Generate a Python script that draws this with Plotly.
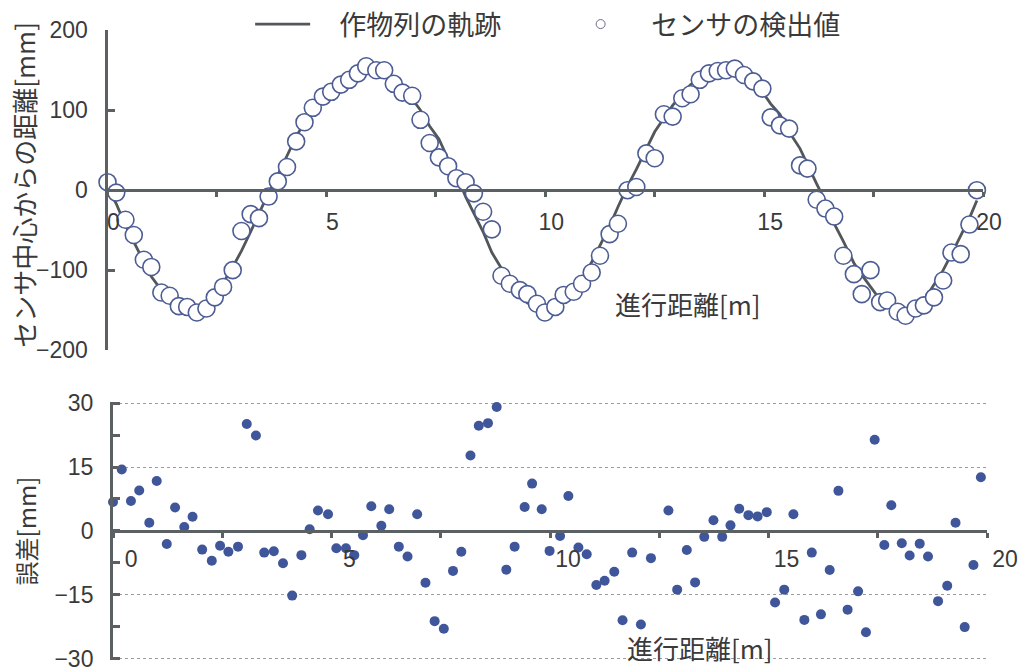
import plotly.graph_objects as go

# ---- data ----
distance_m = [0.0, 0.20, 0.41, 0.60, 0.83, 1.00, 1.23, 1.42, 1.63, 1.82,
              2.04, 2.26, 2.45, 2.64, 2.86, 3.06, 3.27, 3.46, 3.68, 3.89,
              4.10, 4.31, 4.50, 4.69, 4.92, 5.11, 5.33, 5.52, 5.72, 5.91,
              6.14, 6.32, 6.54, 6.74, 6.96, 7.15, 7.36, 7.57, 7.78, 7.97,
              8.18, 8.37, 8.58, 8.78, 9.00, 9.19, 9.42, 9.59, 9.81, 9.99,
              10.23, 10.42, 10.65, 10.84, 11.06, 11.25, 11.47, 11.66, 11.88, 12.08,
              12.31, 12.50, 12.71, 12.91, 13.13, 13.32, 13.53, 13.74, 13.94, 14.13,
              14.33, 14.54, 14.75, 14.96, 15.15, 15.36, 15.57, 15.82, 15.99, 16.20,
              16.40, 16.60, 16.81, 17.05, 17.23, 17.43, 17.65, 17.81, 18.05, 18.23,
              18.46, 18.65, 18.88, 19.09, 19.28, 19.49, 19.69, 19.86]

row_track_mm = [3, -17, -44, -65, -89, -108, -125, -137, -146, -149,
                -149, -141, -130, -116, -96, -76, -52, -30, -3, 19,
                44, 67, 85, 98, 113, 127, 136, 144, 147, 149,
                149, 145, 137, 128, 114, 100, 80, 64, 39, 20,
                -8, -29, -52, -78, -98, -113, -131, -141, -147, -148,
                -145, -139, -123, -111, -90, -70, -45, -21, 5, 26,
                52, 73, 90, 106, 120, 132, 139, 144, 150, 149,
                147, 140, 133, 123, 108, 95, 73, 52, 32, 8,
                -14, -42, -64, -91, -106, -121, -137, -144, -149, -151,
                -145, -138, -118, -100, -80, -57, -35, -13]

sensor_mm = [10, -3, -37, -56, -87, -96, -128, -132, -145, -146,
             -153, -148, -134, -121, -100, -51, -30, -35, -8, 11,
             29, 61, 85, 103, 117, 123, 132, 138, 146, 155,
             150, 150, 133, 122, 118, 88, 59, 41, 30, 15,
             10, -4, -27, -49, -107, -117, -125, -130, -142, -153,
             -146, -131, -127, -117, -103, -82, -55, -42, 0, 4,
             46, 40, 95, 92, 115, 120, 138, 146, 149, 150,
             152, 144, 136, 127, 91, 81, 77, 31, 27, -12,
             -23, -33, -82, -105, -130, -100, -140, -138, -152, -157,
             -148, -144, -134, -113, -78, -80, -43, 0]

# None: point lies below the -30 mm limit of the lower chart (not shown)
error_mm = [6.8, 14.4, 7.0, 9.5, 1.9, 11.7, -3.1, 5.5, 0.9, 3.3,
            -4.4, -7.0, -3.5, -4.9, -3.7, 25.1, 22.4, -5.1, -4.8, -7.6,
            -15.2, -5.7, 0.4, 4.8, 3.9, -4.1, -4.1, -5.7, -1.0, 5.8,
            1.2, 5.1, -3.7, -6.0, 3.9, -12.2, -21.2, -23.0, -9.4, -4.9,
            17.7, 24.7, 25.3, 29.1, -9.1, -3.7, 5.6, 11.1, 5.1, -4.7,
            -1.2, 8.2, -3.9, -5.5, -12.7, -11.7, -9.6, -21.0, -5.1, -22.0,
            -6.4, None, 4.8, -13.8, -4.5, -12.1, -1.4, 2.5, -1.4, 1.3,
            5.2, 3.7, 3.4, 4.4, -16.8, -13.8, 3.9, -20.9, -5.1, -19.6,
            -9.2, 9.4, -18.5, -14.2, -23.8, 21.4, -3.3, 6.0, -2.9, -5.8,
            -3.0, -6.0, -16.5, -12.9, 1.9, -22.6, -8.0, 12.6]

series_names = ["作物列の軌跡", "センサの検出値"]
top_y_title = "センサ中心からの距離[mm]"
bottom_y_title = "誤差[mm]"
x_title = "進行距離[m]"

# ---- style ----
AXIS = "#5b6063"
TEXT = "#3a3a3a"
JP = "Noto Sans CJK JP"
NUM = "Liberation Sans, Noto Sans CJK JP"
PAD = "\u00a0" * 4
PAD2 = "\u00a0" * 3

fig = go.Figure()
fig.add_trace(go.Scatter(x=distance_m, y=row_track_mm, mode="lines",
                         name=PAD + series_names[0],
                         line=dict(color="#52575a", width=2.8),
                         xaxis="x", yaxis="y"))
fig.add_trace(go.Scatter(x=distance_m, y=sensor_mm, mode="markers",
                         name=series_names[1], showlegend=False, cliponaxis=False,
                         marker=dict(symbol="circle", size=17, color="white",
                                     line=dict(color="#4d5d94", width=1.6)),
                         xaxis="x", yaxis="y"))
# legend entry for the sensor series (small symbol, as in the original key)
fig.add_trace(go.Scatter(x=[None], y=[None], mode="markers",
                         name=PAD2 + series_names[1],
                         marker=dict(symbol="circle", size=9, color="white",
                                     line=dict(color="#6a7090", width=1)),
                         xaxis="x", yaxis="y"))
fig.add_trace(go.Scatter(x=distance_m, y=error_mm, mode="markers",
                         showlegend=False, cliponaxis=False,
                         marker=dict(size=10, color="#40569a"),
                         xaxis="x2", yaxis="y2"))

xcommon = dict(range=[0, 20], tick0=0, dtick=5, showline=True, linewidth=3,
               linecolor=AXIS, ticks="outside", ticklen=5, tickwidth=2.5,
               tickcolor=AXIS, showgrid=False, zeroline=False, automargin=False,
               minor=dict(dtick=2.5, ticks="outside", ticklen=5, tickwidth=2.5,
                          tickcolor=AXIS),
               tickfont=dict(family=NUM, size=23, color=TEXT),
               ticklabeloverflow="allow")

top_dom = [0.479, 0.955]
bot_dom = [0.018, 0.402]

fig.update_layout(
    width=1021, height=672,
    margin=dict(l=0, r=0, t=0, b=0, autoexpand=False),
    paper_bgcolor="white", plot_bgcolor="white",
    showlegend=True,
    xaxis=dict(domain=[0.1053, 0.9628], anchor="free",
               position=(top_dom[0] + top_dom[1]) / 2,
               ticklabelshift=6, ticklabelstandoff=5, **xcommon),
    yaxis=dict(domain=top_dom, range=[-200, 200], dtick=100, anchor="x",
               showline=True, linewidth=3, linecolor=AXIS, automargin=False,
               ticks="inside", ticklen=7, tickwidth=2.5, tickcolor=AXIS,
               showgrid=False, zeroline=False, ticklabelstandoff=12,
               ticklabeloverflow="allow",
               tickfont=dict(family=NUM, size=23, color=TEXT)),
    xaxis2=dict(domain=[0.1107, 0.9667], anchor="free",
                position=(bot_dom[0] + bot_dom[1]) / 2,
                ticklabelshift=18, ticklabelstandoff=2, **xcommon),
    yaxis2=dict(domain=bot_dom, range=[-30.3, 30.3], dtick=15, anchor="x2",
                showline=True, linewidth=3, linecolor=AXIS, automargin=False,
                ticks="inside", ticklen=7, tickwidth=2.5, tickcolor=AXIS,
                minor=dict(dtick=7.5, ticks="inside", ticklen=7, tickwidth=2.5,
                           tickcolor=AXIS),
                showgrid=True, griddash="dot", gridcolor="#9c9c9c", gridwidth=1.3,
                zeroline=False, ticklabelstandoff=12, ticklabeloverflow="allow",
                tickfont=dict(family=NUM, size=23, color=TEXT)),
    legend=dict(orientation="h", x=0.245, y=1.0, xanchor="left", yanchor="top",
                font=dict(family=JP, size=27, color=TEXT),
                itemwidth=55, itemsizing="trace", entrywidth=248,
                bgcolor="rgba(0,0,0,0)"),
    annotations=[
        dict(text=top_y_title, xref="paper", yref="paper", x=0.0235, y=0.725,
             xanchor="center", yanchor="middle",
             textangle=-90, showarrow=False,
             font=dict(family=JP, size=26, color=TEXT)),
        dict(text=bottom_y_title, xref="paper", yref="paper", x=0.025, y=0.21,
             xanchor="center", yanchor="middle",
             textangle=-90, showarrow=False,
             font=dict(family=JP, size=24, color=TEXT)),
        dict(text=x_title, xref="paper", yref="paper", x=0.674, y=0.548,
             xanchor="center", yanchor="middle",
             showarrow=False, font=dict(family=JP, size=26, color=TEXT)),
        dict(text=x_title, xref="paper", yref="paper", x=0.686, y=0.037,
             xanchor="center", yanchor="middle",
             showarrow=False, font=dict(family=JP, size=26, color=TEXT)),
    ],
)

fig.write_html("out.html")
